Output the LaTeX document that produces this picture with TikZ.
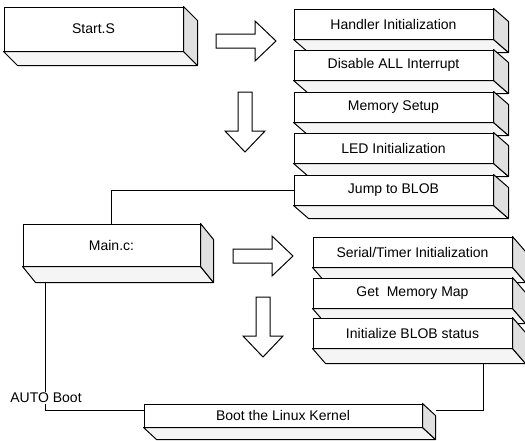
\documentclass[tikz,border=0pt]{standalone}
\usepackage{fontspec}
\setmainfont{Liberation Sans}
\usetikzlibrary{calc}
\tikzset{
  slab/.style={draw, fill=white, line width=1pt, inner sep=0pt,
    font=\fontsize{14}{16}\selectfont},
  wire/.style={line width=0.9pt},
  fatarrow/.pic={
    \draw[line width=1pt, fill=white, line join=miter]
      (0,-7) -- (39,-7) -- (39,-20) -- (60,0) -- (39,20) -- (39,7) -- (0,7) -- cycle;
  }
}
% bottom and right faces of a slab node: name, dx, dy
\newcommand\slabsides[3]{%
  \draw[line width=1pt, fill=black!4, line join=round]
    (#1.south west) -- ++(#2,#3) -- ($(#1.south east)+(#2,#3)$) -- (#1.south east) -- cycle;
  \draw[line width=1pt, fill=black!12, line join=round]
    (#1.north east) -- ++(#2,#3) -- ($(#1.south east)+(#2,#3)$) -- (#1.south east) -- cycle;
}
\begin{document}
\begin{tikzpicture}[x=1pt,y=-1pt]
  \useasboundingbox (0,0) rectangle (525,440);

  % Start.S and its steps
  \node[slab, minimum width=179pt, minimum height=44pt] (start) at (93.5,29) {Start.S};
  \slabsides{start}{14}{14}

  \node[slab, minimum width=199pt, minimum height=30pt] (handler) at (393.5,24) {Handler Initialization};
  \slabsides{handler}{15}{13}
  \node[slab, minimum width=199pt, minimum height=30pt] (irq) at (393.5,65) {Disable ALL Interrupt};
  \slabsides{irq}{15}{13}
  \node[slab, minimum width=199pt, minimum height=30pt] (mem) at (393.5,107) {Memory Setup};
  \slabsides{mem}{15}{13}
  \node[slab, minimum width=199pt, minimum height=30pt] (led) at (393.5,148) {LED Initialization};
  \slabsides{led}{15}{13}
  \node[slab, minimum width=199pt, minimum height=30pt] (jump) at (393.5,190) {Jump to BLOB};
  \slabsides{jump}{15}{13}

  % Main.c and its steps
  \node[slab, minimum width=177pt, minimum height=42pt] (main) at (111.5,245) {Main.c:};
  \slabsides{main}{13}{16}

  \node[slab, minimum width=199pt, minimum height=30pt] (serial) at (412.5,252) {Serial/Timer Initialization};
  \slabsides{serial}{13}{15}
  \node[slab, minimum width=199pt, minimum height=30pt] (memmap) at (412.5,293) {Get\ \ Memory Map};
  \slabsides{memmap}{13}{15}
  \node[slab, minimum width=199pt, minimum height=30pt] (status) at (412.5,333) {Initialize BLOB status};
  \slabsides{status}{13}{15}

  \node[slab, minimum width=278pt, minimum height=23pt] (boot) at (283,415.5) {Boot the Linux Kernel};
  \slabsides{boot}{13}{12}

  % block arrows
  \pic at (216,41) {fatarrow};
  \pic[rotate=-90] at (245,92) {fatarrow};
  \pic at (233,256) {fatarrow};
  \pic[rotate=-90] at (263,297) {fatarrow};

  % connectors
  \draw[wire] (main.north) |- (jump.west);
  \draw[wire] ($(main.south west)+(23,16)$) |- ([yshift=5pt]boot.west);
  \draw[wire] ($(status.south east)+(-29,15)$) |- ($(boot.east)+(13,-5)$);
  \node[fill=white, inner sep=1.5pt, font=\fontsize{14}{16}\selectfont] (auto) at (46,398) {AUTO Boot};
\end{tikzpicture}
\end{document}
